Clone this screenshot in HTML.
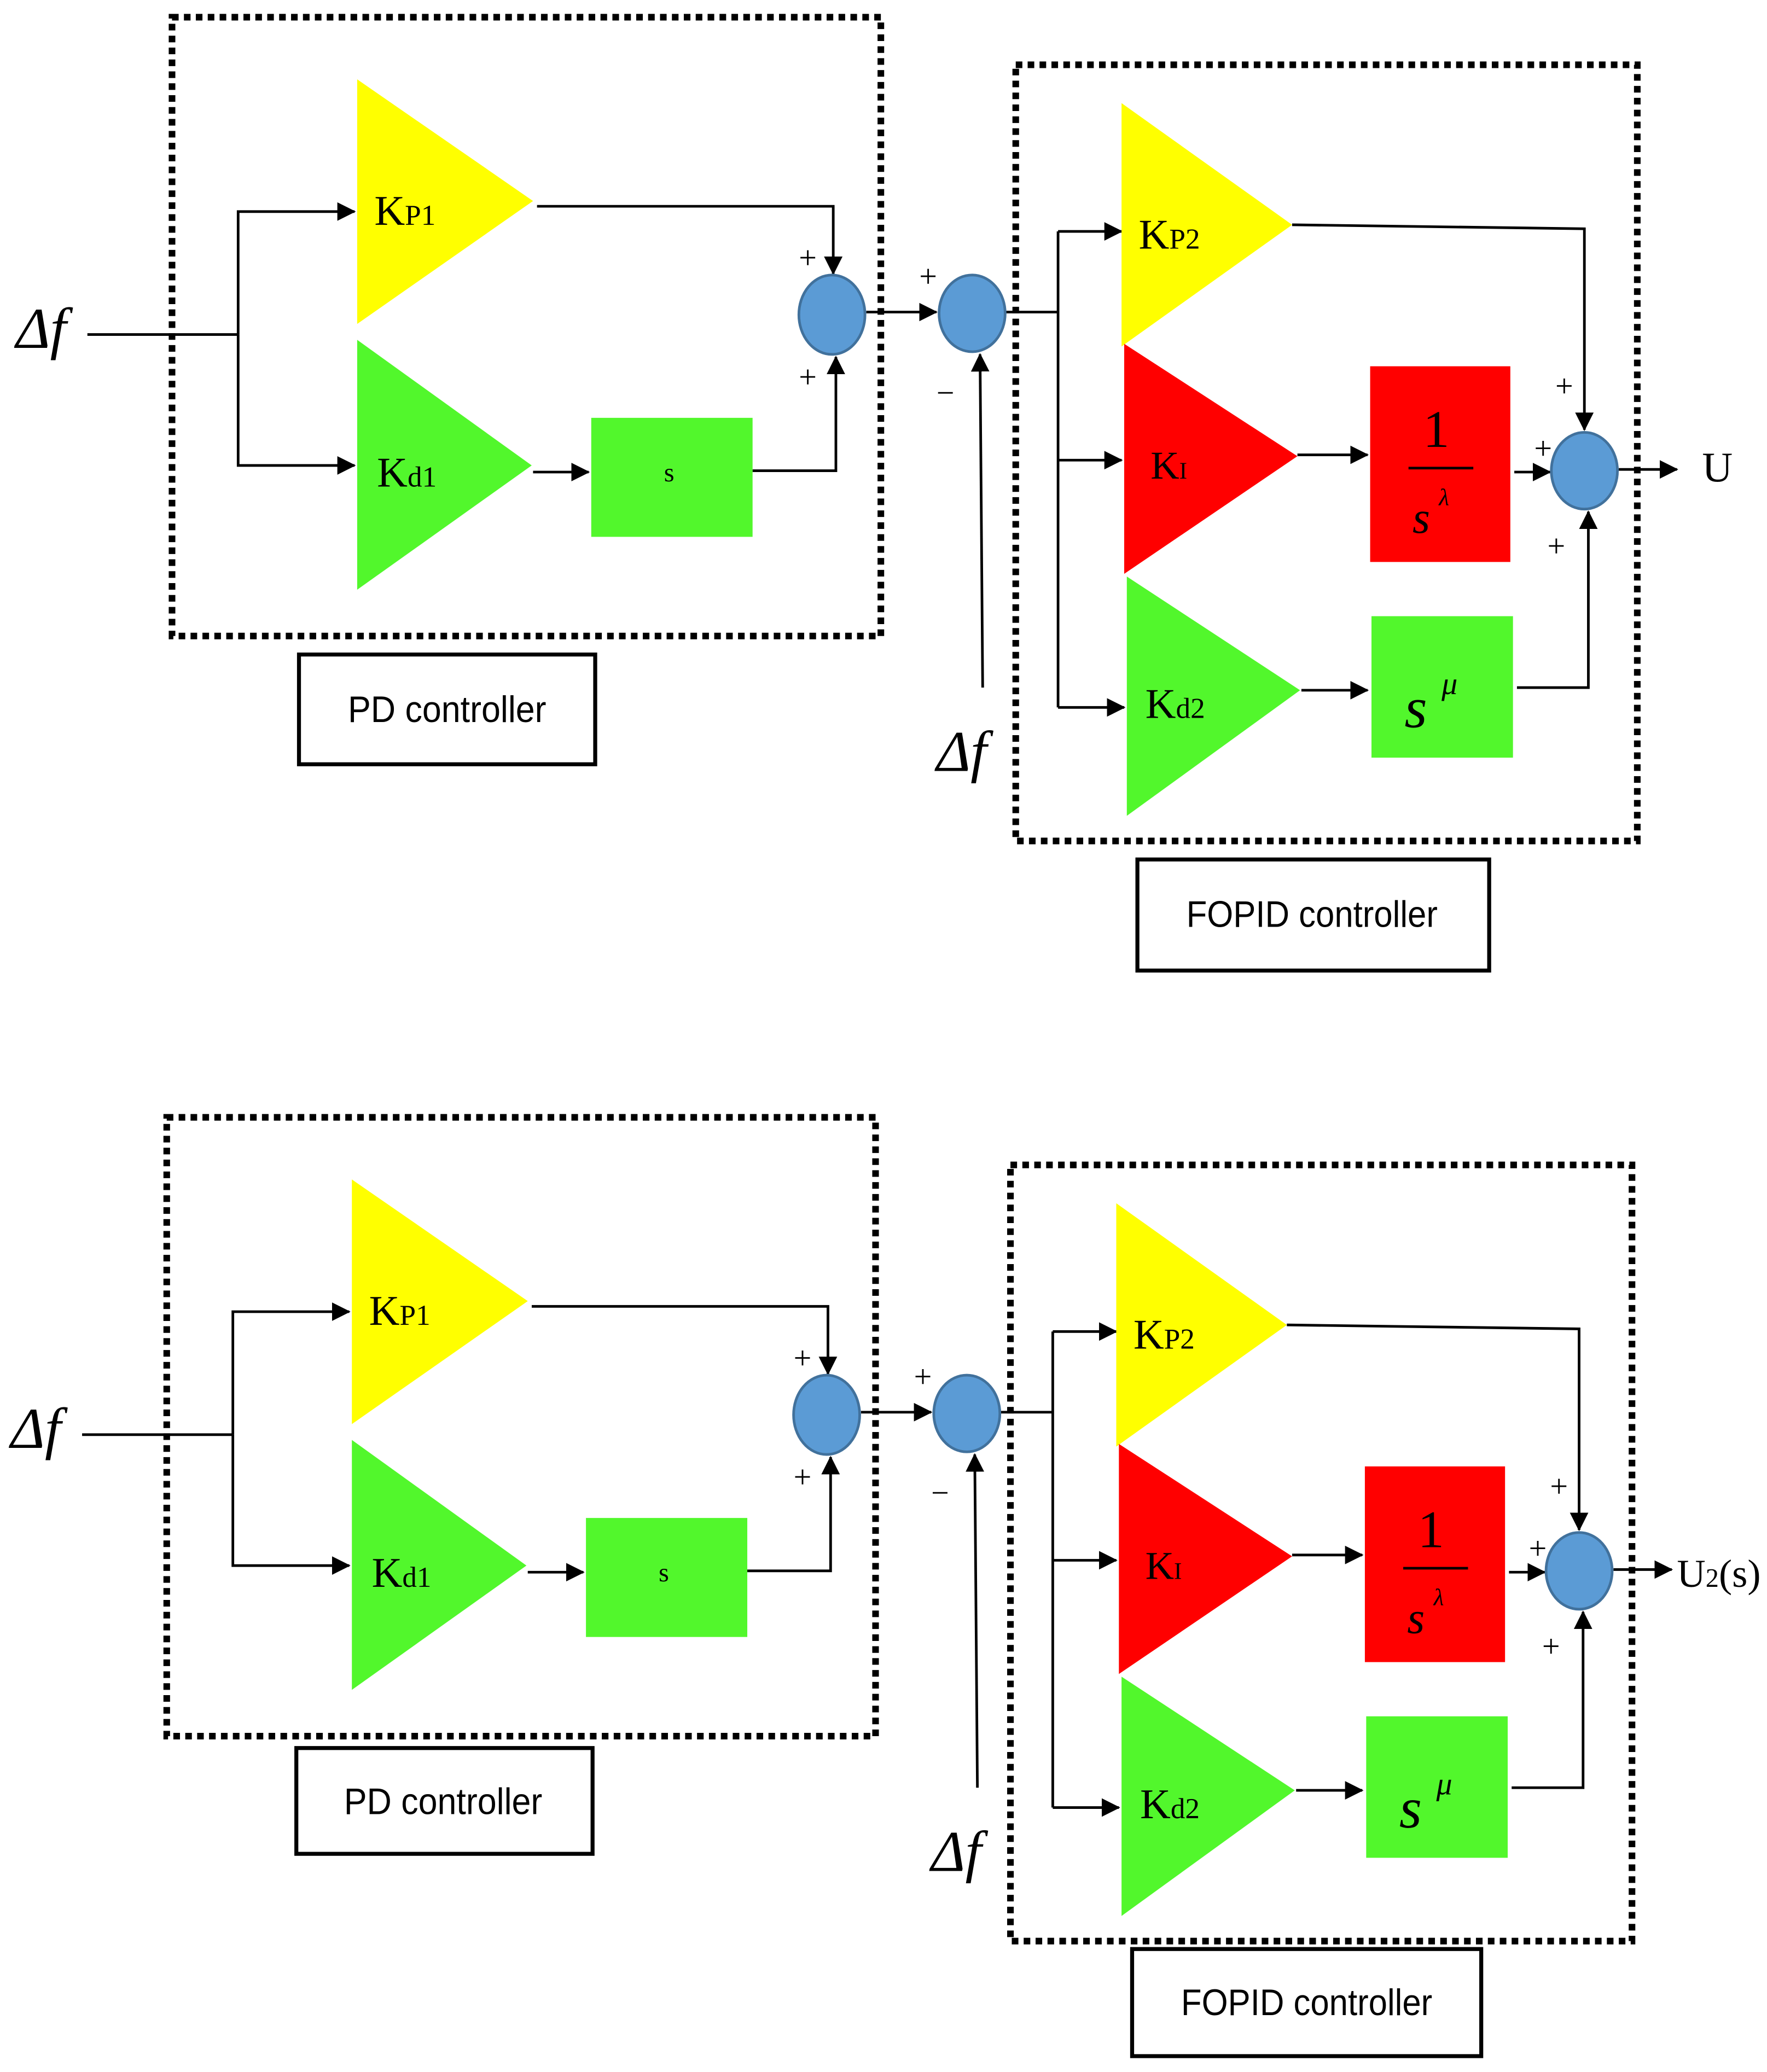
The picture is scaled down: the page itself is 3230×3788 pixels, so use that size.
<!DOCTYPE html>
<html><head><meta charset="utf-8"><style>
html,body{margin:0;padding:0;background:#fff}
svg{display:block}
text{font-family:"Liberation Serif",serif;fill:#000}
.lab{font-family:"Liberation Sans",sans-serif;font-size:28px}
</style></head><body>
<svg width="3230" height="3788" viewBox="0 0 1336 1567" xmlns="http://www.w3.org/2000/svg">
<defs>
<marker id="a" markerWidth="10" markerHeight="10" refX="9" refY="5" orient="auto" markerUnits="userSpaceOnUse" viewBox="0 0 10 10">
<path d="M0,0 L10,5 L0,10 z" fill="#000"/></marker>
<marker id="b" markerWidth="14" markerHeight="14" refX="13" refY="7" orient="auto" markerUnits="userSpaceOnUse" viewBox="0 0 14 14">
<path d="M0,0 L14,7 L0,14 z" fill="#000"/></marker>
<g id="core">
<rect x="130" y="13" width="536" height="468" fill="none" stroke="#000" stroke-width="5" stroke-dasharray="5,4"/>
<rect x="768" y="49" width="470" height="587" fill="none" stroke="#000" stroke-width="5" stroke-dasharray="5,4"/>
<g stroke="#000" stroke-width="2" fill="none">
<polyline points="66,253 180,253"/>
<polyline points="180,253 180,160 268,160" marker-end="url(#b)"/>
<polyline points="180,253 180,352 268,352" marker-end="url(#b)"/>
<polyline points="403,357 445,357" marker-end="url(#b)"/>
<polyline points="569,356 632,356 632,270" marker-end="url(#b)"/>
<polyline points="406,156 630,156 630,207" marker-end="url(#b)"/>
<polyline points="655,236 708,236" marker-end="url(#b)"/>
<polyline points="743,520 741,268" marker-end="url(#b)"/>
<polyline points="760,236 800,236"/>
<polyline points="800,175 800,535"/>
<polyline points="800,175 848,175" marker-end="url(#b)"/>
<polyline points="800,348 848,348" marker-end="url(#b)"/>
<polyline points="800,535 850,535" marker-end="url(#b)"/>
<polyline points="977,170 1198,173 1198,325" marker-end="url(#b)"/>
<polyline points="981,344 1034,344" marker-end="url(#b)"/>
<polyline points="1145,357 1172,357" marker-end="url(#b)"/>
<polyline points="984,522 1034,522" marker-end="url(#b)"/>
<polyline points="1147,520 1201,520 1201,387" marker-end="url(#b)"/>
<polyline points="1224,355 1268,355" marker-end="url(#b)"/>
</g>
<polygon points="270,60 403,152 270,245" fill="#ffff00"/>
<polygon points="270,257 402,352 270,446" fill="#52f72c"/>
<rect x="447" y="316" width="122" height="90" fill="#52f72c"/>
<polygon points="848,78 977,170 848,262" fill="#ffff00"/>
<polygon points="850,260 981,345 850,434" fill="#ff0000"/>
<polygon points="852,436 983,522 852,617" fill="#52f72c"/>
<rect x="1036" y="277" width="106" height="148" fill="#ff0000"/>
<rect x="1037" y="466" width="107" height="107" fill="#52f72c"/>
<g fill="#5b9bd5" stroke="#41719c" stroke-width="2">
<ellipse cx="629" cy="238" rx="25" ry="30"/>
<ellipse cx="735" cy="237" rx="25" ry="29"/>
<ellipse cx="1198" cy="356" rx="25" ry="29"/>
</g>
<line x1="1065" y1="354" x2="1114" y2="354" stroke="#000" stroke-width="2"/>
<text x="283" y="170" font-size="32">K<tspan font-size="22">P1</tspan></text>
<text x="285" y="368" font-size="32">K<tspan font-size="22">d1</tspan></text>
<text x="502" y="364" font-size="20">s</text>
<text x="861" y="188" font-size="32">K<tspan font-size="22">P2</tspan></text>
<text x="870" y="362" font-size="30">K<tspan font-size="18">I</tspan></text>
<text x="866" y="543" font-size="32">K<tspan font-size="22">d2</tspan></text>
<text x="1076" y="338" font-size="40">1</text>
<text x="1068" y="403" font-size="34" font-style="italic">s</text>
<text x="1088" y="382" font-size="18" font-style="italic">λ</text>
<text x="1062" y="550" font-size="44" font-style="italic">s</text>
<text x="1090" y="525" font-size="24" font-style="italic">μ</text>
<g font-size="24">
<text x="604" y="203">+</text><text x="604" y="293">+</text>
<text x="695" y="217">+</text><text x="708" y="305">−</text>
<text x="1176" y="300">+</text><text x="1160" y="347">+</text><text x="1170" y="421">+</text>
</g>
<text x="12" y="263" font-size="44" font-style="italic">Δf</text>
<text x="708" y="583" font-size="44" font-style="italic">Δf</text>
</g>
</defs>

<use href="#core"/>
<text x="1287" y="364" font-size="32">U</text>
<rect x="226" y="495" width="224" height="83" fill="none" stroke="#000" stroke-width="3"/>
<text class="lab" x="338" y="546" text-anchor="middle" textLength="150" lengthAdjust="spacingAndGlyphs">PD controller</text>
<rect x="860" y="650" width="266" height="84" fill="none" stroke="#000" stroke-width="3"/>
<text class="lab" x="992" y="701" text-anchor="middle" textLength="190" lengthAdjust="spacingAndGlyphs">FOPID controller</text>

<g transform="translate(-4,832)"><use href="#core"/></g>
<text x="1268" y="1200" font-size="30">U<tspan font-size="20">2</tspan>(s)</text>
<rect x="224" y="1322" width="224" height="80" fill="none" stroke="#000" stroke-width="3"/>
<text class="lab" x="335" y="1372" text-anchor="middle" textLength="150" lengthAdjust="spacingAndGlyphs">PD controller</text>
<rect x="856" y="1474" width="264" height="81" fill="none" stroke="#000" stroke-width="3"/>
<text class="lab" x="988" y="1524" text-anchor="middle" textLength="190" lengthAdjust="spacingAndGlyphs">FOPID controller</text>
</svg>
</body></html>
